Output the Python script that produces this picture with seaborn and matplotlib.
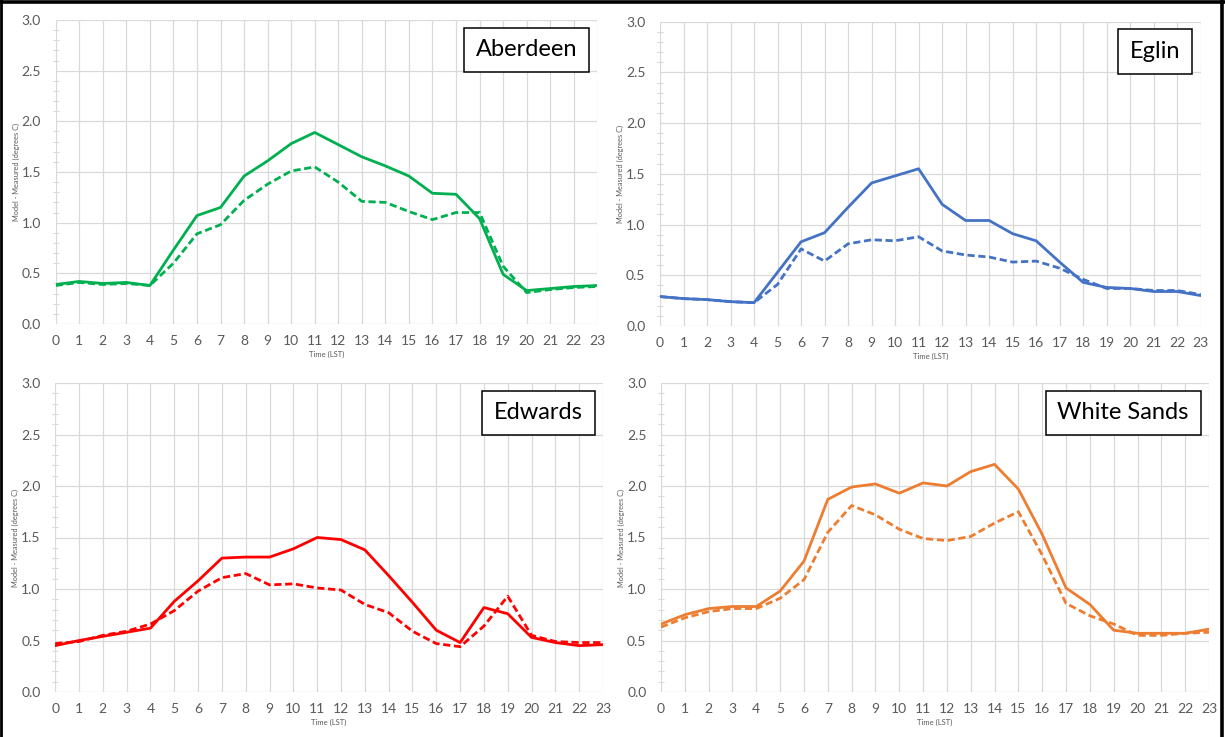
import matplotlib
matplotlib.use("Agg")
import matplotlib.pyplot as plt
import numpy as np
import pandas as pd
import seaborn as sns
from matplotlib.lines import Line2D
from matplotlib.ticker import MultipleLocator, FormatStrFormatter

hours = list(range(24))

aberdeen_solid = [0.39, 0.42, 0.40, 0.41, 0.38, 0.73, 1.07, 1.15, 1.46, 1.61, 1.78, 1.89,
                  1.77, 1.65, 1.56, 1.46, 1.29, 1.28, 1.04, 0.49, 0.33, 0.35, 0.37, 0.38]
aberdeen_dashed = [0.38, 0.41, 0.39, 0.40, 0.38, 0.60, 0.89, 0.98, 1.22, 1.38, 1.51, 1.55,
                   1.40, 1.21, 1.20, 1.11, 1.03, 1.10, 1.10, 0.57, 0.31, 0.34, 0.36, 0.37]

eglin_solid = [0.29, 0.27, 0.26, 0.24, 0.23, 0.53, 0.83, 0.92, 1.17, 1.41, 1.48, 1.55,
               1.20, 1.04, 1.04, 0.91, 0.84, 0.63, 0.43, 0.38, 0.37, 0.34, 0.34, 0.30]
eglin_dashed = [0.29, 0.27, 0.26, 0.24, 0.23, 0.41, 0.76, 0.64, 0.81, 0.85, 0.84, 0.88,
                0.74, 0.70, 0.68, 0.63, 0.64, 0.57, 0.46, 0.37, 0.37, 0.35, 0.35, 0.31]

edwards_solid = [0.45, 0.50, 0.54, 0.58, 0.62, 0.88, 1.08, 1.30, 1.31, 1.31, 1.39, 1.50,
                 1.48, 1.38, 1.13, 0.87, 0.60, 0.48, 0.82, 0.76, 0.53, 0.48, 0.45, 0.46]
edwards_dashed = [0.47, 0.49, 0.55, 0.59, 0.66, 0.79, 0.98, 1.11, 1.15, 1.04, 1.05, 1.01,
                  0.99, 0.85, 0.77, 0.59, 0.47, 0.44, 0.64, 0.93, 0.55, 0.49, 0.48, 0.48]

whitesands_solid = [0.66, 0.75, 0.81, 0.83, 0.83, 0.98, 1.27, 1.87, 1.99, 2.02, 1.93, 2.03,
                    2.00, 2.14, 2.21, 1.97, 1.53, 1.01, 0.85, 0.60, 0.57, 0.57, 0.57, 0.61]
whitesands_dashed = [0.63, 0.72, 0.78, 0.81, 0.81, 0.91, 1.09, 1.55, 1.81, 1.72, 1.58, 1.49,
                     1.47, 1.51, 1.64, 1.75, 1.33, 0.86, 0.74, 0.66, 0.55, 0.55, 0.57, 0.58]

sites = ["Aberdeen", "Eglin", "Edwards", "White Sands"]
series = {
    "Aberdeen": (aberdeen_solid, aberdeen_dashed),
    "Eglin": (eglin_solid, eglin_dashed),
    "Edwards": (edwards_solid, edwards_dashed),
    "White Sands": (whitesands_solid, whitesands_dashed),
}
colors = {"Aberdeen": "#00B050", "Eglin": "#4472C4",
          "Edwards": "#FF0000", "White Sands": "#ED7D31"}

y_ticks = [0.0, 0.5, 1.0, 1.5, 2.0, 2.5, 3.0]

sns.set_theme(style="white")
plt.rcParams["font.family"] = ["Lato", "DejaVu Sans"]

W, H = 1225, 737
fig = plt.figure(figsize=(W / 100, H / 100), dpi=100)

# panel boxes in pixels: left, right, top, bottom
panel_px = {
    "Aberdeen": (55.7, 597.3, 20.0, 324.0),
    "Eglin": (660.0, 1200.7, 21.7, 326.0),
    "Edwards": (55.2, 603.0, 383.0, 692.0),
    "White Sands": (661.0, 1209.0, 383.0, 692.0),
}

grid_c = "#D9D9D9"
text_c = "#595959"

for site in sites:
    l, r, t, b = panel_px[site]
    ax = fig.add_axes([l / W, 1 - b / H, (r - l) / W, (b - t) / H])
    solid, dashed = series[site]
    df = pd.DataFrame({
        "hour": hours * 2,
        "value": solid + dashed,
        "case": ["case 1"] * len(hours) + ["case 2"] * len(hours),
    })
    sns.lineplot(data=df, x="hour", y="value", style="case",
                 dashes={"case 1": "", "case 2": (2.6, 1.3)},
                 color=colors[site], lw=2.0, legend=False, ax=ax,
                 estimator=None, zorder=3)

    ax.set_xlim(0, 23)
    ax.set_ylim(0, 3)
    ax.set_xticks(hours)
    ax.set_xticklabels([str(h) for h in hours])
    ax.set_yticks(y_ticks)
    ax.yaxis.set_major_formatter(FormatStrFormatter("%.1f"))
    ax.yaxis.set_minor_locator(MultipleLocator(0.1))

    ax.grid(True, which="major", color=grid_c, lw=0.9, zorder=0)
    for sp in ax.spines.values():
        sp.set_visible(False)

    ax.tick_params(axis="both", which="major", length=0, labelsize=10,
                   labelcolor=text_c)
    ax.tick_params(axis="y", which="major", pad=10.5)
    ax.tick_params(axis="x", which="major", pad=8)
    ax.tick_params(axis="y", which="minor", left=True, direction="inout",
                   length=5, width=0.8, color=grid_c)

    ax.set_xlabel("Time (LST)", fontsize=5.5, color=text_c)
    ax.set_ylabel("Model - Measured (degrees C)", fontsize=5.3, color=text_c)
    ax.xaxis.set_label_coords(0.5, -27 / (b - t))
    ax.yaxis.set_label_coords(-36 / (r - l), 0.5)

    ax.annotate(site, xy=(1, 1), xycoords="axes fraction",
                xytext=(-14.5, -14), textcoords="offset points",
                ha="right", va="top", fontsize=17, color="black", zorder=5,
                bbox=dict(boxstyle="square,pad=0.5", fc="white", ec="black", lw=1.1))

# outer frame on left, top and right
for xs, ys, lw in [([1 / W, 1 / W], [0, 1], 2.0),
                   ([0, 1], [1 - 1.8 / H, 1 - 1.8 / H], 2.6),
                   ([1 - 3.5 / W, 1 - 3.5 / W], [0, 1], 2.6)]:
    fig.add_artist(Line2D(xs, ys, transform=fig.transFigure, color="black", lw=lw))

fig.savefig("out.png", dpi=100, facecolor="white")
